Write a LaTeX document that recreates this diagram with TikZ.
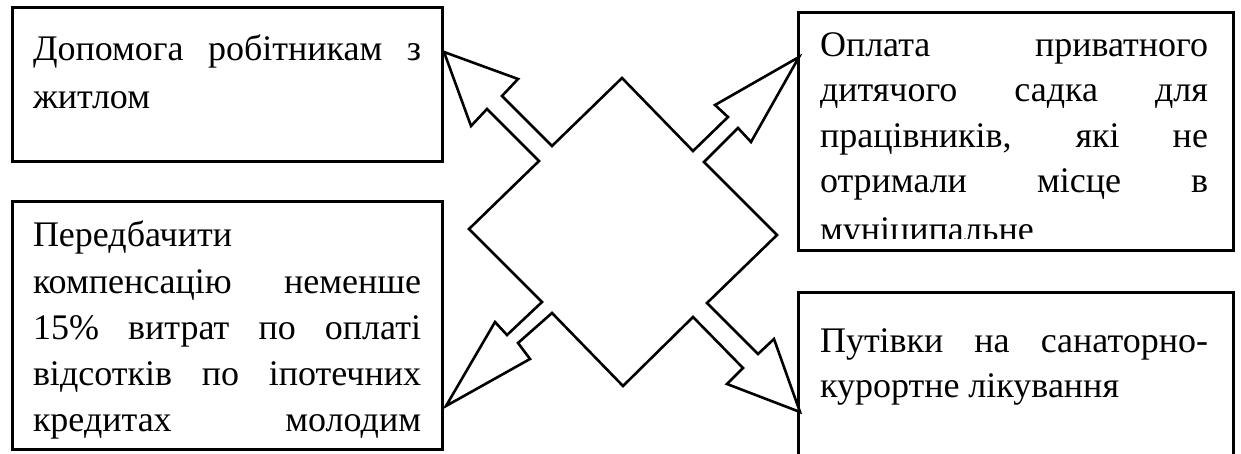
\documentclass[tikz,border=0pt]{standalone}
\usepackage{fontspec}
\setmainfont{Liberation Serif}

% one justified line of box text
\newcommand{\jl}[1]{\makebox[388pt][s]{#1}}

\tikzset{
  panel/.style={draw, line width=3pt, anchor=north west, inner sep=0pt,
                outer sep=0pt, fill=none},
  txt/.style={anchor=base west, inner sep=0pt, outer sep=0pt,
              font=\fontsize{36}{45}\selectfont},
  starshape/.style={draw, line width=2.6pt, line join=miter, fill=white},
}

\begin{document}
\begin{tikzpicture}[x=1pt,y=-1pt]
\clip (0,0) rectangle (1241,454);
\fill[white] (0,0) rectangle (1241,454);

% --- text of the four boxes (kept inside each frame's text area) ---
\begin{scope}
  \clip (13.5,9.5) rectangle (440.5,160.5);
  \node[txt] (tl1) at (33,61)  {\jl{Допомога робітникам з}};
  \node[txt] (tl2) at (33,109) {житлом};
\end{scope}

\begin{scope}
  \clip (13.5,203.5) rectangle (440.5,447.5);
  \node[txt] (bl1) at (33,247) {Передбачити};
  \node[txt] (bl2) at (33,293) {\jl{компенсацію неменше}};
  \node[txt] (bl3) at (33,339) {\jl{15\% витрат по оплаті}};
  \node[txt] (bl4) at (33,385) {\jl{відсотків по іпотечних}};
  \node[txt] (bl5) at (33,431) {\jl{кредитах молодим}};
\end{scope}

\begin{scope}
  \clip (799.5,14.5) rectangle (1231.5,239);
  \node[txt] (tr1) at (820,57)  {\jl{Оплата приватного}};
  \node[txt] (tr2) at (820,102) {\jl{дитячого садка для}};
  \node[txt] (tr3) at (820,148) {\jl{працівників, які не}};
  \node[txt] (tr4) at (820,193) {\jl{отримали місце в}};
  \node[txt] (tr5) at (820,241) {муніципальне};
\end{scope}

\begin{scope}
  \clip (799.5,293.5) rectangle (1231.5,470);
  \node[txt] (br1) at (820,352) {\jl{Путівки на санаторно-}};
  \node[txt] (br2) at (820,397) {курортне лікування};
\end{scope}

% --- frames ---
\node[panel, minimum width=430pt, minimum height=154pt] (tlbox) at (12,8)   {};
\node[panel, minimum width=430pt, minimum height=247pt] (blbox) at (12,202) {};
\node[panel, minimum width=435pt, minimum height=238pt] (trbox) at (798,13) {};
\node[panel, minimum width=435pt, minimum height=200pt] (brbox) at (798,292) {};

% --- central diamond with four outgoing block arrows ---
\draw[starshape]
  (469,229) -- (539,161) -- (487,109) -- (471,126) -- (444,52)
  -- (518,79) -- (502,96) -- (552,146) -- (622,78)
  -- (693,151) -- (728,117) -- (715,105) -- (799,57)
  -- (751,142) -- (738,128) -- (704,162) -- (777,235)
  -- (707,303) -- (758,354) -- (774,339) -- (800,412)
  -- (727,384) -- (743,368) -- (693,317) -- (623,386)
  -- (552,313) -- (518,343) -- (530,359) -- (446,406)
  -- (495,322) -- (507,335) -- (542,302) -- cycle;
\end{tikzpicture}
\end{document}
